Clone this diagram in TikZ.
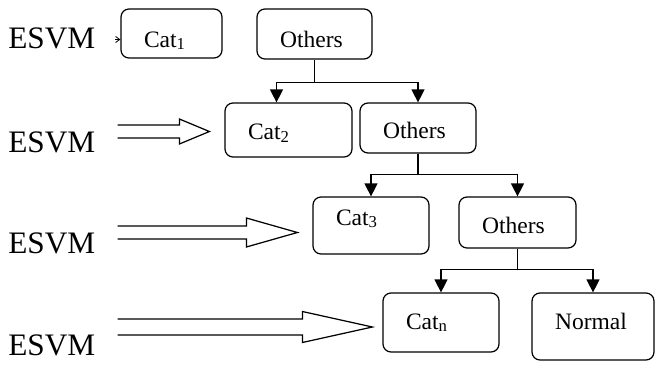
\documentclass[tikz,border=0pt]{standalone}
\usepackage{fontspec}
\setmainfont{Liberation Serif}
\usetikzlibrary{arrows.meta,calc}

\newcommand{\sub}[1]{\raisebox{-1.5pt}{\fontsize{9.5}{10}\selectfont #1}}

\begin{document}
\begin{tikzpicture}[
    x=0.02cm, y=-0.02cm,
    box/.style={draw, line width=0.7pt, rounded corners=0.16cm, align=left,
                font=\fontsize{13.4}{16}\selectfont, inner xsep=0.46cm, inner ysep=0pt,
                text depth=0pt},
    lbl/.style={font=\fontsize{17.8}{21}\selectfont, inner sep=0pt, anchor=base west},
    link/.style={line width=0.7pt},
    arrow/.style={link, -{Triangle[length=0.26cm, width=0.26cm]}},
    hollow/.style={line width=0.7pt, line join=miter},
    tinyarrow/.style={line width=0.5pt, -{Straight Barb[length=0.08cm, width=0.12cm]}}
  ]
    \useasboundingbox (0,0) rectangle (655,365);

    % classifier labels
    \node[lbl] (e1) at (8,48) {ESVM};
    \node[lbl] (e2) at (8,152) {ESVM};
    \node[lbl] (e3) at (8,253) {ESVM};
    \node[lbl] (e4) at (8,355) {ESVM};

    % category boxes
    \node[box, text width=1.10cm, minimum height=0.98cm, text height=0.55cm] (cat1) at (171.5,33.5) {Cat\sub{1}};
    \node[box, text width=1.38cm, minimum height=1.00cm, text height=0.53cm] (oth1) at (314.5,34) {Others};
    \node[box, text width=1.62cm, minimum height=1.08cm, text height=0.39cm] (cat2) at (288.5,130) {Cat\sub{2}};
    \node[box, text width=1.40cm, minimum height=1.00cm, text height=0.43cm] (oth2) at (418,128) {Others};
    \node[box, text width=1.40cm, minimum height=1.14cm, text height=0cm, text depth=0.01cm] (cat3) at (371,225.5) {Cat\sub{3}};
    \node[box, text width=1.42cm, minimum height=1.02cm, text height=0.43cm] (oth3) at (517.5,222.5) {Others};
    \node[box, text width=1.40cm, minimum height=1.18cm, text height=0.27cm] (catn) at (441,322.5) {Cat\sub{n}};
    \node[box, text width=1.52cm, minimum height=1.34cm, text height=0.11cm] (normal) at (593,326.5) {Normal};

    % tree links
    \draw[link] (oth1.south) -- ++(0,23) coordinate (j1);
    \draw[arrow] (j1) -| ($(cat2.north)+(-12,0)$);
    \draw[arrow] (j1) -| (oth2.north);
    \draw[link] (oth2.south) -- ++(0,21) coordinate (j2);
    \draw[arrow] (j2) -| (cat3.north);
    \draw[arrow] (j2) -| (oth3.north);
    \draw[link] (oth3.south) -- ++(0,21) coordinate (j3);
    \draw[arrow] (j3) -| (catn.north);
    \draw[arrow] (j3) -| (normal.north);

    % ESVM to categories
    \draw[tinyarrow] ($(cat1.west)+(-5,6)$) -- ($(cat1.west)+(0,6)$);
    \foreach \src/\tgt/\gap/\dy/\neck/\shaft/\head in
        {e2/cat2/15/1.5/30/6.5/12.5, e3/cat3/15/7/51/6.5/14.5, e4/catn/10/4.5/70/8/15.5}
    {
      \coordinate (tip) at ($(\tgt.west)+(-\gap,\dy)$);
      \coordinate (tail) at ($(\src.east |- tip)+(22,0)$);
      \draw[hollow] ($(tail)+(0,-\shaft)$) -- ($(tip)+(-\neck,-\shaft)$)
        -- ($(tip)+(-\neck,-\head)$) -- (tip) -- ($(tip)+(-\neck,\head)$)
        -- ($(tip)+(-\neck,\shaft)$) -- ($(tail)+(0,\shaft)$);
    }
\end{tikzpicture}
\end{document}
